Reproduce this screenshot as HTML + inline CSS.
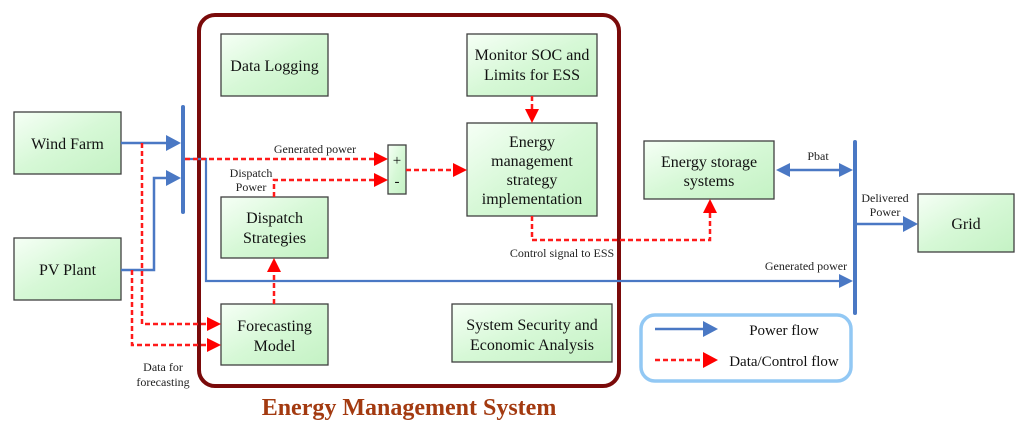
<!DOCTYPE html>
<html><head><meta charset="utf-8"><style>
html,body{margin:0;padding:0;background:#fff;}
svg{display:block;font-family:"Liberation Serif",serif;}
</style></head><body>
<svg width="1019" height="430" viewBox="0 0 1019 430" xmlns="http://www.w3.org/2000/svg">
<defs>
<linearGradient id="g" x1="0" y1="0" x2="1" y2="1">
<stop offset="0" stop-color="#f6fff6"/><stop offset="0.5" stop-color="#d6f8d6"/><stop offset="1" stop-color="#c4f2c4"/>
</linearGradient>
</defs>
<g stroke="#404040" stroke-width="1.3" fill="url(#g)">
<rect x="14" y="112" width="107" height="62"/>
<rect x="14" y="238" width="107" height="62"/>
<rect x="221" y="34" width="107" height="62"/>
<rect x="467" y="34" width="130" height="62"/>
<rect x="467" y="123" width="130" height="93"/>
<rect x="221" y="197" width="107" height="61"/>
<rect x="221" y="304" width="107" height="61"/>
<rect x="452" y="304" width="160" height="58"/>
<rect x="644" y="141" width="130" height="58"/>
<rect x="918" y="194" width="96" height="58"/>
<rect x="388" y="145" width="18" height="49"/>
</g>
<rect x="199" y="15" width="420" height="371" rx="16" fill="none" stroke="#7a0a0a" stroke-width="4"/>
<rect x="641" y="315" width="210" height="66" rx="14" fill="none" stroke="#92c8f4" stroke-width="3.5"/>
<g stroke="#4a78c4" fill="none" stroke-width="2.5">
<line x1="183" y1="107" x2="183" y2="212" stroke-width="4" stroke-linecap="round"/>
<line x1="855" y1="142" x2="855" y2="313" stroke-width="4" stroke-linecap="round"/>
<polyline points="121,143 168,143"/>
<polyline points="121,270 154,270 154,178 168,178"/>
<polyline points="183,159 206,159 206,281 842,281" stroke-width="2.2"/>
<line x1="788" y1="170" x2="842" y2="170"/>
<line x1="855" y1="224" x2="904" y2="224"/>
<line x1="655" y1="329" x2="704" y2="329"/>
</g>
<g fill="#4a78c4">
<polygon points="181,143 166,135 166,151"/>
<polygon points="181,178 166,170 166,186"/>
<polygon points="853,281 839,274 839,288"/>
<polygon points="853,170 839,163 839,177"/>
<polygon points="776,170 790,163 790,177"/>
<polygon points="918,224 903,216 903,232"/>
<polygon points="718,329 703,321 703,337"/>
</g>
<g stroke="#ff1a1a" fill="none" stroke-width="2.5" stroke-dasharray="5,3">
<polyline points="185,159 375,159"/>
<polyline points="274,197 274,180 375,180"/>
<polyline points="406,170 453,170"/>
<polyline points="532,96 532,110"/>
<polyline points="274,304 274,272"/>
<polyline points="142,143 142,324 207,324"/>
<polyline points="132,270 132,345 207,345"/>
<polyline points="532,216 532,240 710,240 710,213"/>
<polyline points="655,360 703,360"/>
</g>
<g fill="#ff0000">
<polygon points="388,159 374,152 374,166"/>
<polygon points="388,180 374,173 374,187"/>
<polygon points="467,170 453,163 453,177"/>
<polygon points="532,123 525,109 539,109"/>
<polygon points="274,258 267,272 281,272"/>
<polygon points="221,324 207,317 207,331"/>
<polygon points="221,345 207,338 207,352"/>
<polygon points="710,199 703,213 717,213"/>
<polygon points="718,360 703,352 703,368"/>
</g>
<g font-size="16" fill="#111" text-anchor="middle">
<text x="67.5" y="149">Wind Farm</text>
<text x="67.5" y="275">PV Plant</text>
<text x="274.5" y="71">Data Logging</text>
<text x="532" y="60">Monitor SOC and</text>
<text x="532" y="80">Limits for ESS</text>
<text x="532" y="147">Energy</text>
<text x="532" y="166">management</text>
<text x="532" y="185">strategy</text>
<text x="532" y="204">implementation</text>
<text x="274.5" y="223">Dispatch</text>
<text x="274.5" y="243">Strategies</text>
<text x="274.5" y="331">Forecasting</text>
<text x="274.5" y="351">Model</text>
<text x="532" y="330">System Security and</text>
<text x="532" y="350">Economic Analysis</text>
<text x="709" y="167">Energy storage</text>
<text x="709" y="186">systems</text>
<text x="966" y="229">Grid</text>
<text x="397" y="165" font-size="15">+</text>
<text x="397" y="186" font-size="15">-</text>
<text x="784" y="335" font-size="15">Power flow</text>
<text x="784" y="366" font-size="15">Data/Control flow</text>
</g>
<g font-size="12" fill="#222" text-anchor="middle">
<text x="315" y="153">Generated power</text>
<text x="251" y="177">Dispatch</text>
<text x="251" y="191">Power</text>
<text x="562" y="257">Control signal to ESS</text>
<text x="806" y="270">Generated power</text>
<text x="818" y="160">Pbat</text>
<text x="885" y="202">Delivered</text>
<text x="885" y="216">Power</text>
<text x="163" y="371">Data for</text>
<text x="163" y="386">forecasting</text>
</g>
<text x="409" y="415" font-size="24" font-weight="bold" fill="#a33a10" text-anchor="middle">Energy Management System</text>
</svg>
</body></html>
